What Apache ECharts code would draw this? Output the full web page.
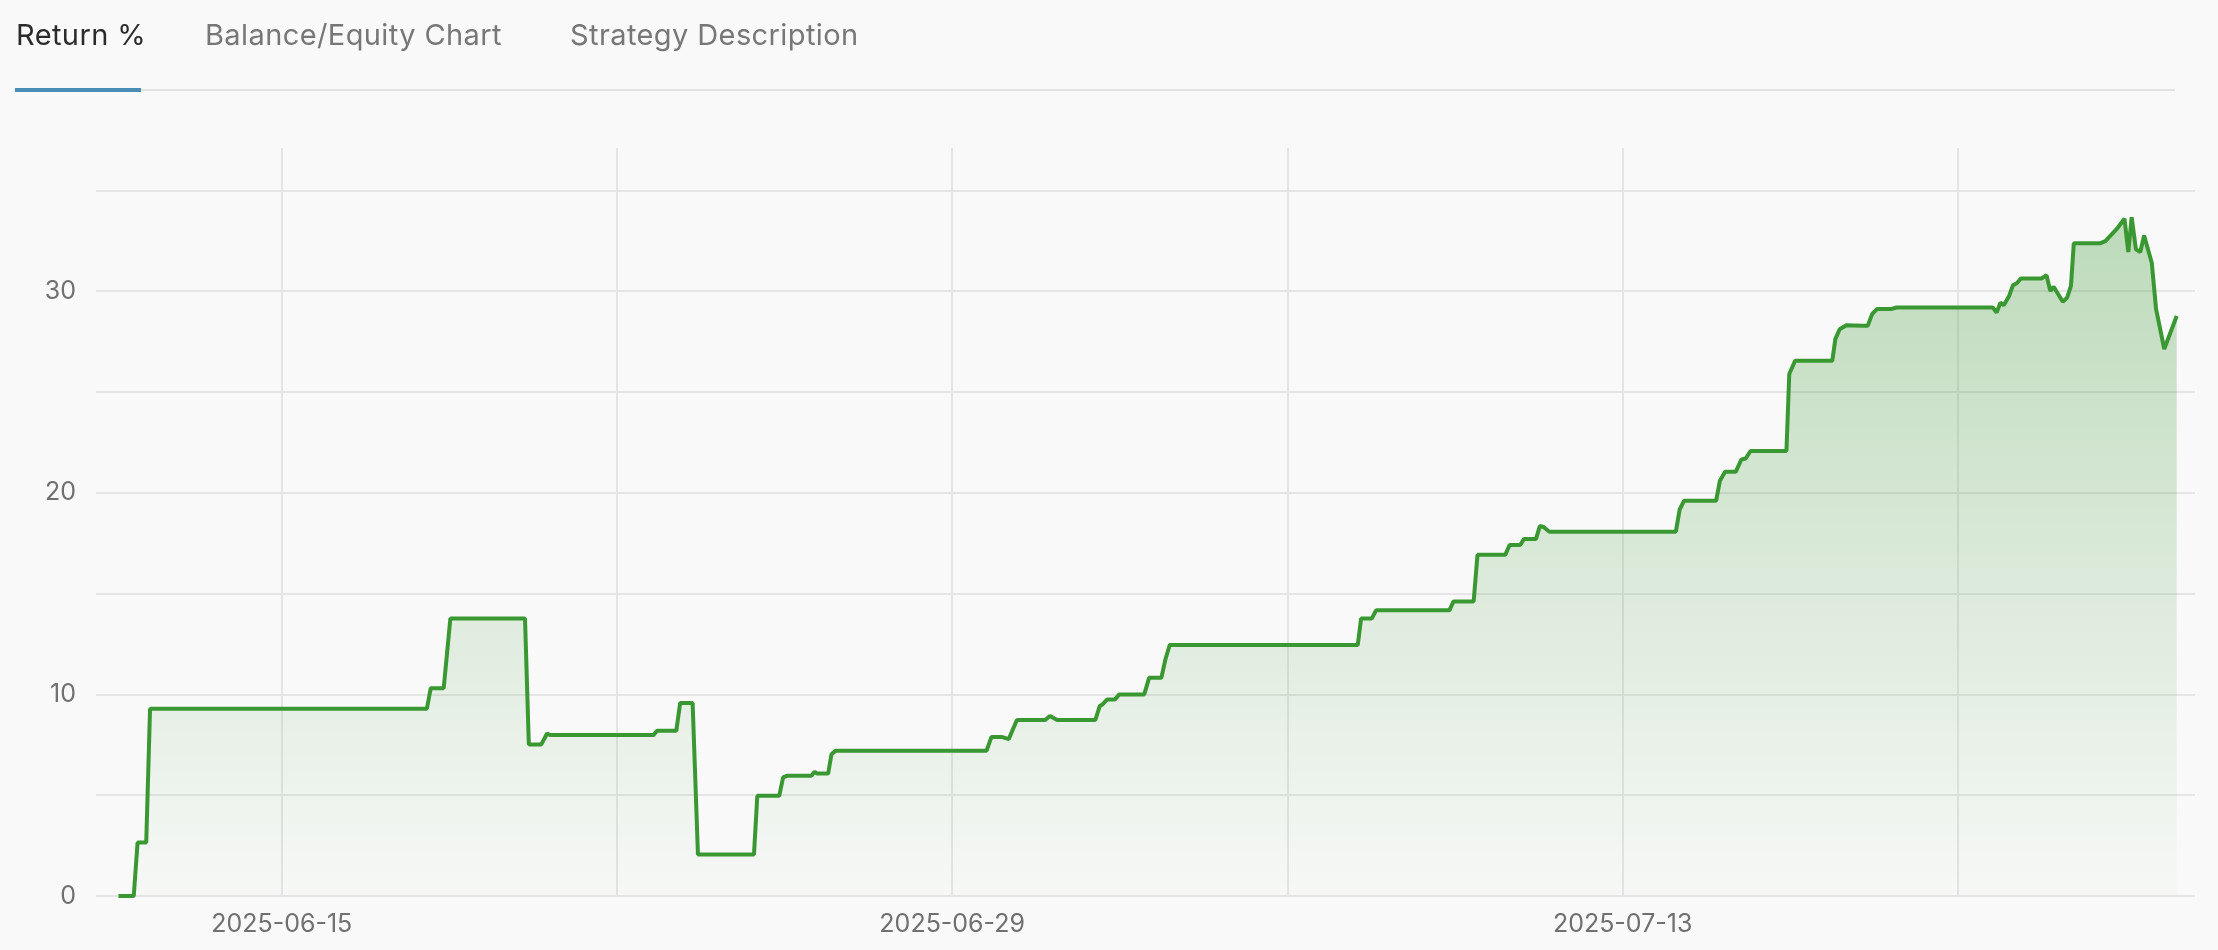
<!DOCTYPE html>
<html>
<head>
<meta charset="utf-8">
<script src="https://cdn.jsdelivr.net/npm/echarts@6/dist/echarts.min.js"></script>
<style>
  html, body { margin: 0; padding: 0; background: #f9f9f9; width: 2218px; height: 950px; overflow: hidden; font-family: Inter, "Noto Sans", sans-serif; }
  #tabs { position: absolute; left: 0; top: 0; width: 2218px; height: 100px; }
  .tab { position: absolute; top: 17px; font-size: 29px; line-height: 35px; letter-spacing: 0.4px; color: #777; white-space: nowrap; }
  .tab.active { color: #2b2b2b; }
  #rule { position: absolute; left: 141px; top: 89px; width: 2034px; height: 2px; background: #e2e2e2; }
  #ink { position: absolute; left: 15px; top: 88px; width: 126px; height: 4px; background: #4a8db5; }
  #chart { position: absolute; left: 0; top: 0; width: 2218px; height: 950px; }
</style>
</head>
<body>
<div id="chart"></div>
<div id="tabs">
  <div class="tab active" style="left:16px">Return %</div>
  <div class="tab" style="left:205px">Balance/Equity Chart</div>
  <div class="tab" style="left:570px">Strategy Description</div>
  <div id="rule"></div>
  <div id="ink"></div>
</div>
<script>
// Tab labels
const tabLabels = ['Return %', 'Balance/Equity Chart', 'Strategy Description'];

// Return % series: timestamps (UTC) and values
const times = [
  '2025-06-11 14:10','2025-06-11 21:50','2025-06-11 23:45','2025-06-12 04:05','2025-06-12 06:00',
  '2025-06-18 00:45','2025-06-18 02:40','2025-06-18 09:10','2025-06-18 12:30','2025-06-20 01:55',
  '2025-06-20 03:50','2025-06-20 10:05','2025-06-20 13:00','2025-06-20 14:25','2025-06-22 18:15',
  '2025-06-22 20:10','2025-06-23 05:45','2025-06-23 07:40','2025-06-23 13:55','2025-06-23 16:35',
  '2025-06-24 20:40','2025-06-24 22:20','2025-06-25 09:20','2025-06-25 11:15','2025-06-25 13:10',
  '2025-06-26 01:25','2025-06-26 03:05','2025-06-26 04:20','2025-06-26 09:50','2025-06-26 11:30',
  '2025-06-26 13:40','2025-06-29 17:15','2025-06-29 19:40','2025-06-30 00:45','2025-06-30 04:20',
  '2025-06-30 08:25','2025-06-30 22:35','2025-07-01 01:00','2025-07-01 04:35','2025-07-01 23:45',
  '2025-07-02 01:55','2025-07-02 03:20','2025-07-02 05:45','2025-07-02 09:35','2025-07-02 11:45',
  '2025-07-03 00:15','2025-07-03 02:40','2025-07-03 08:50','2025-07-03 10:50','2025-07-03 13:00',
  '2025-07-07 11:15','2025-07-07 12:55','2025-07-07 18:15','2025-07-07 20:25','2025-07-09 09:10',
  '2025-07-09 11:15','2025-07-09 21:20','2025-07-09 23:15','2025-07-10 13:10','2025-07-10 15:20',
  '2025-07-10 20:40','2025-07-10 22:35','2025-07-11 04:35','2025-07-11 06:30','2025-07-11 08:25',
  '2025-07-11 11:15','2025-07-14 02:40','2025-07-14 04:35','2025-07-14 06:45','2025-07-14 22:50',
  '2025-07-15 00:45','2025-07-15 03:20','2025-07-15 08:40','2025-07-15 11:30','2025-07-15 13:40',
  '2025-07-15 16:05','2025-07-16 10:05','2025-07-16 11:30','2025-07-16 14:25','2025-07-17 09:05',
  '2025-07-17 10:35','2025-07-17 12:45','2025-07-17 16:05','2025-07-18 00:00','2025-07-18 02:50',
  '2025-07-18 05:00','2025-07-18 07:25','2025-07-18 14:25','2025-07-18 17:15','2025-07-20 17:30',
  '2025-07-20 19:25','2025-07-20 21:20','2025-07-20 23:00','2025-07-21 01:40','2025-07-21 03:35',
  '2025-07-21 05:30','2025-07-21 07:40','2025-07-21 18:00','2025-07-21 20:25','2025-07-21 22:20',
  '2025-07-22 00:00','2025-07-22 04:35','2025-07-22 06:45','2025-07-22 08:40','2025-07-22 10:05',
  '2025-07-22 23:15','2025-07-23 01:55','2025-07-23 07:25','2025-07-23 11:30','2025-07-23 13:25',
  '2025-07-23 15:05','2025-07-23 17:15','2025-07-23 19:25','2025-07-23 21:20','2025-07-24 01:10',
  '2025-07-24 03:20','2025-07-24 07:25','2025-07-24 13:40'
];
const returnPct = [
  0, 0, 2.65, 2.65, 9.29,
  9.29, 10.31, 10.31, 13.76, 13.76,
  7.52, 7.52, 8.06, 7.98, 7.98,
  8.2, 8.2, 9.57, 9.57, 2.06,
  2.06, 4.97, 4.97, 5.88, 5.96,
  5.96, 6.16, 6.07, 6.07, 7.03,
  7.21, 7.21, 7.89, 7.89, 7.78,
  8.73, 8.73, 8.93, 8.73, 8.73,
  9.42, 9.50, 9.75, 9.75, 10.0,
  10.0, 10.82, 10.82, 11.73, 12.45,
  12.45, 13.76, 13.76, 14.17, 14.17,
  14.61, 14.61, 16.92, 16.92, 17.41,
  17.41, 17.71, 17.71, 18.35, 18.3,
  18.07, 18.07, 19.17, 19.6, 19.6,
  20.6, 21.04, 21.04, 21.65, 21.70,
  22.07, 22.07, 25.89, 26.55, 26.55,
  27.62, 28.11, 28.31, 28.28, 28.28,
  28.86, 29.11, 29.11, 29.19, 29.19,
  28.94, 29.43, 29.30, 29.76, 30.29,
  30.39, 30.63, 30.63, 30.79, 30.01,
  30.22, 29.47, 29.68, 30.26, 32.37,
  32.37, 32.48, 33.06, 33.59, 31.94,
  33.67, 32.07, 31.94, 32.76, 31.41,
  29.11, 27.13, 28.77
];

// Axis settings
const weekAnchor = '2025-06-15';          // gridlines every week from this Sunday
const xRange = ['2025-06-11 02:55', '2025-07-24 22:50'];
const yTickLabels = [0, 10, 20, 30];
const yMax = 37.1;

const WEEK = 7 * 864e5;
const anchorMs = Date.parse(weekAnchor + 'T00:00:00Z');
const toWeeks = s => (Date.parse(s.replace(' ', 'T') + ':00Z') - anchorMs) / WEEK;
const fmtWeek = w => new Date(anchorMs + w * WEEK).toISOString().slice(0, 10);

const seriesData = times.map((t, i) => [toWeeks(t), returnPct[i]]);

const chart = echarts.init(document.getElementById('chart'), null, { renderer: 'canvas' });
chart.setOption({
  backgroundColor: '#f9f9f9',
  animation: false,
  textStyle: { fontFamily: 'Inter, "Noto Sans", sans-serif' },
  grid: { left: 96, right: 23, top: 148, bottom: 54, containLabel: false },
  xAxis: {
    type: 'value',
    min: toWeeks(xRange[0]),
    max: toWeeks(xRange[1]),
    minInterval: 1,
    maxInterval: 1,
    axisLine: { show: false },
    axisTick: { show: false },
    splitLine: { show: true, showMinLine: false, showMaxLine: false, lineStyle: { color: '#e5e5e5', width: 2 } },
    axisLabel: {
      show: true,
      showMinLabel: false,
      showMaxLabel: false,
      color: '#707070',
      fontSize: 25,
      margin: 16,
      formatter: v => {
        const r = Math.round(v);
        if (Math.abs(v - r) > 1e-6 || r < 0 || r % 2 !== 0) return '';
        return fmtWeek(r);
      }
    }
  },
  yAxis: {
    type: 'value',
    min: 0,
    max: yMax,
    interval: 5,
    axisLine: { show: false },
    axisTick: { show: false },
    splitLine: { show: true, showMaxLine: false, lineStyle: { color: '#e5e5e5', width: 2 } },
    axisLabel: {
      showMaxLabel: false,
      color: '#707070',
      fontSize: 25,
      margin: 20,
      formatter: v => (yTickLabels.indexOf(v) >= 0 ? String(v) : '')
    }
  },
  series: [{
    type: 'line',
    data: seriesData,
    symbol: 'none',
    smooth: false,
    lineStyle: { color: '#3a9832', width: 4 },
    itemStyle: { color: '#3a9832' },
    areaStyle: {
      color: new echarts.graphic.LinearGradient(0, 0, 0, 1, [
        { offset: 0, color: 'rgba(61,153,53,0.46)' },
        { offset: 1, color: 'rgba(61,153,53,0.02)' }
      ])
    }
  }]
});
</script>
</body>
</html>
